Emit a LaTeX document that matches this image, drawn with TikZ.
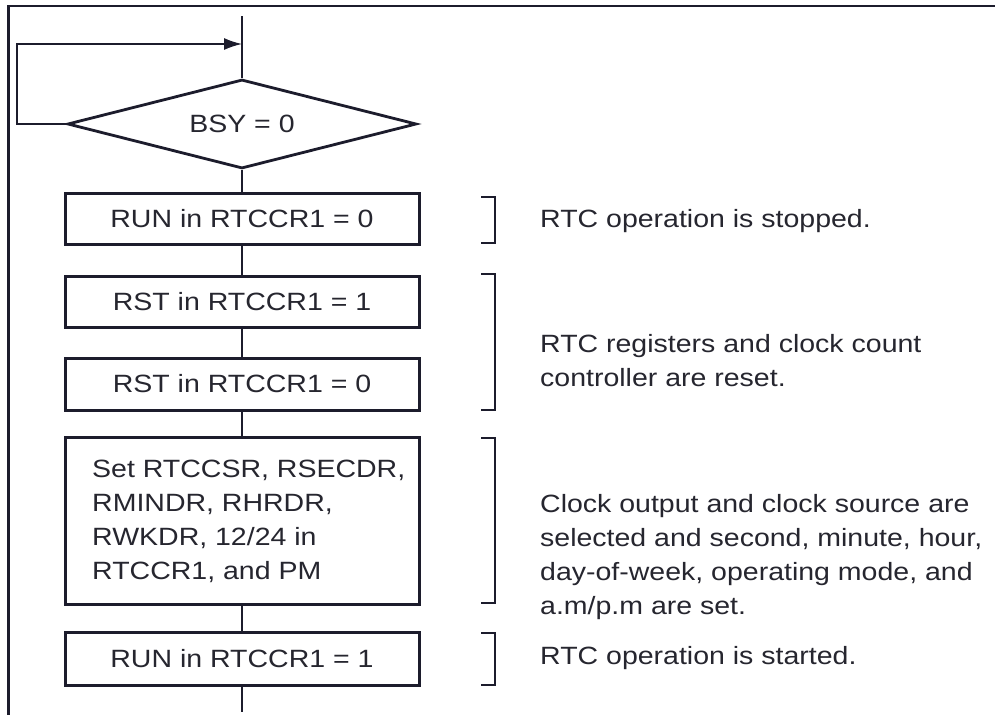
\documentclass[tikz,border=0pt]{standalone}
\usepackage{fontspec}
\setmainfont{Liberation Sans}[FakeStretch=1.14]
\usetikzlibrary{shapes.geometric,arrows.meta}
\definecolor{ink}{HTML}{1C1C2C}
\definecolor{txt}{HTML}{26262F}
\tikzset{
  stepbox/.style={draw=ink, line width=3pt, minimum width=354pt, inner sep=0pt,
    text=txt, font=\fontsize{25}{34}\selectfont},
  testbox/.style={draw=ink, line width=2.8pt, diamond, aspect=3.9, inner sep=0pt,
    minimum width=349pt, minimum height=89pt, text=txt, font=\fontsize{25}{34}\selectfont},
  flow/.style={draw=ink, line width=1.5pt},
  brk/.style={draw=ink, line width=1.7pt},
  note/.style={anchor=west, align=left, inner sep=0pt, text=txt, font=\fontsize{25}{34}\selectfont},
  frame/.style={draw=ink, line width=2.4pt}
}
\begin{document}
\begin{tikzpicture}[x=1pt, y=-1pt]
\useasboundingbox (0,0) rectangle (995,715);
\fill[white] (0,0) rectangle (995,715);

% outer frame (top and left edges)
\draw[frame] (995,6) -- (8.5,6) -- (8.5,715);

% flow steps
\node[testbox] (bsy) at (242,124) {BSY = 0};
\node[stepbox, minimum height=51pt] (run0) at (242,218.5) {RUN in RTCCR1 = 0};
\node[stepbox, minimum height=51pt] (rst1) at (242,301.5) {RST in RTCCR1 = 1};
\node[stepbox, minimum height=52pt] (rst0) at (242,384) {RST in RTCCR1 = 0};
\node[stepbox, minimum height=167pt] (setregs) at (242,520.5) {};
\node[note] (setregstext) at (92,521) {Set RTCCSR, RSECDR,\\RMINDR, RHRDR,\\RWKDR, 12/24 in\\RTCCR1, and PM};
\node[stepbox, minimum height=53pt] (run1) at (242,658.5) {RUN in RTCCR1 = 1};

% connectors
\coordinate (entry) at (242,16);
\coordinate (loopin) at (242,44);
\coordinate (exit) at (242,712);
\draw[flow] (entry) -- (bsy.north);
\draw[flow] (bsy.south) -- (run0.north);
\draw[flow] (run0.south) -- (rst1.north);
\draw[flow] (rst1.south) -- (rst0.north);
\draw[flow] (rst0.south) -- (setregs.north);
\draw[flow] (setregs.south) -- (run1.north);
\draw[flow] (run1.south) -- (exit);
\draw[flow, -{Latex[length=18pt, width=12pt]}] (bsy.west) -- (17,124) |- (loopin);

% brackets
\draw[brk] (481,197) -- (495,197) -- (495,243) -- (481,243);
\draw[brk] (481,274) -- (495,274) -- (495,410) -- (481,410);
\draw[brk] (481,438) -- (495,438) -- (495,603) -- (481,603);
\draw[brk] (481,633) -- (495,633) -- (495,685) -- (481,685);

% descriptions
\node[note] (n1) at (540,221) {RTC operation is stopped.};
\node[note] (n2) at (540,361) {RTC registers and clock count\\controller are reset.};
\node[note] (n3) at (540,557) {Clock output and clock source are\\selected and second, minute, hour,\\day-of-week, operating mode, and\\a.m/p.m are set.};
\node[note] (n4) at (540,658) {RTC operation is started.};
\end{tikzpicture}
\end{document}
